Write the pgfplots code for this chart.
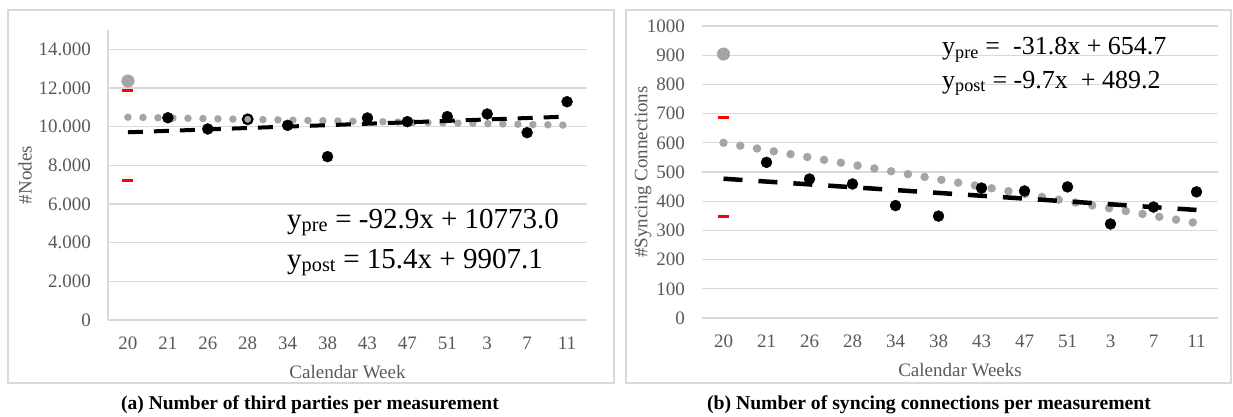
\documentclass[border=0pt]{standalone}
\usepackage{fontspec}
\setmainfont{Liberation Serif}
\usepackage{pgfplots}
\pgfplotsset{compat=1.18}

\definecolor{gridc}{HTML}{D9D9D9}
\definecolor{tickc}{HTML}{595959}
\definecolor{ptgray}{HTML}{A5A5A5}

\pgfplotsset{
  excel/.style={
    scale only axis, anchor=south west,
    xmin=-0.5, xmax=11.5,
    xtick={0,...,11},
    xticklabels={20,21,26,28,34,38,43,47,51,3,7,11},
    scaled y ticks=false,
    major tick length=0pt,
    axis x line*=bottom, axis y line*=left,
    axis line style={draw=gridc, line width=1.3pt, -},
    ymajorgrids, grid style={draw=gridc, line width=1.3pt},
    tick label style={font=\fontsize{19}{22}\selectfont, text=tickc, inner sep=0pt},
    xticklabel style={anchor=north, yshift=-17pt},
    yticklabel style={anchor=east, xshift=-17pt},
    label style={font=\fontsize{19}{22}\selectfont, text=tickc},
    xlabel style={at={(axis description cs:0.5,0)}, anchor=center, yshift=-52pt},
    clip=false,
  },
}

\begin{document}
\begin{tikzpicture}
\path[use as bounding box] (0pt,0pt) rectangle (1233pt,416pt);
\draw[gridc, line width=1.5pt] (8pt,406pt) rectangle (614pt,33pt);
\draw[gridc, line width=1.5pt] (626pt,406pt) rectangle (1231pt,33pt);

% (a) nodes
\begin{axis}[excel,
  at={(108pt,96pt)}, width=479pt, height=290pt,
  ymin=0, ymax=15000,
  ytick={0,2000,4000,6000,8000,10000,12000,14000},
  yticklabels={0,2.000,4.000,6.000,8.000,10.000,12.000,14.000},
  xlabel={Calendar Week}, ylabel={\#Nodes},
  ylabel style={at={(axis description cs:-0.173,0.5)}, anchor=center},
]
  % pre trend (grey dots)
  \addplot[no marks, draw=ptgray, line width=7.5pt, line cap=round,
    dash pattern=on 0pt off 15pt] coordinates {(0,10490) (11,10080)};
  % post trend (black dashes)
  \addplot[no marks, draw=black, line width=4pt,
    dash pattern=on 15pt off 11pt] coordinates {(0,9710) (11,10520)};
  \addplot[only marks, mark=*, mark size=6.3pt, ptgray] coordinates {(0,12360)};
  \addplot[only marks, mark=-, red, mark size=5.5pt, mark options={line width=3pt}]
    coordinates {(0,11845) (0,7190)};
  \addplot[only marks, mark=*, mark size=5.5pt, black] coordinates {
    (1,10460) (2,9880) (4,10070) (5,8450) (6,10450) (7,10260)
    (8,10520) (9,10655) (10,9690) (11,11290)};
  \addplot[only marks, mark=*, mark size=4.8pt, mark options={draw=black, fill=ptgray, line width=2.2pt}]
    coordinates {(3,10380)};
\end{axis}

% (b) syncing connections
\begin{axis}[excel,
  at={(702pt,98pt)}, width=516pt, height=292pt,
  ymin=0, ymax=1000,
  ytick={0,100,200,300,400,500,600,700,800,900,1000},
  yticklabels={0,100,200,300,400,500,600,700,800,900,1000},
  y axis line style={draw=none},
  xlabel={Calendar Weeks}, ylabel={\#Syncing Connections},
  ylabel style={at={(axis description cs:-0.114,0.5)}, anchor=center},
]
  \addplot[no marks, draw=ptgray, line width=8.5pt, line cap=round,
    dash pattern=on 0pt off 17pt] coordinates {(0,600) (11,325)};
  \addplot[no marks, draw=black, line width=4.5pt,
    dash pattern=on 19pt off 16pt] coordinates {(0,477) (11,370)};
  \addplot[only marks, mark=*, mark size=6.3pt, ptgray] coordinates {(0,904)};
  \addplot[only marks, mark=-, red, mark size=5.5pt, mark options={line width=3pt}]
    coordinates {(0,688) (0,346)};
  \addplot[only marks, mark=*, mark size=5.5pt, black] coordinates {
    (1,533) (2,476) (3,459) (4,385) (5,349) (6,445) (7,435)
    (8,449) (9,322) (10,380) (11,432)};
\end{axis}

% regression equations
\node[anchor=base west, inner sep=0pt, font=\fontsize{29}{34}\selectfont]
  at (287pt,188pt) {y\textsubscript{pre} = -92.9x + 10773.0};
\node[anchor=base west, inner sep=0pt, font=\fontsize{29}{34}\selectfont]
  at (287pt,148pt) {y\textsubscript{post} = 15.4x + 9907.1};
\node[anchor=base west, inner sep=0pt, font=\fontsize{26}{31}\selectfont]
  at (942pt,361pt) {y\textsubscript{pre} =\ \ -31.8x + 654.7};
\node[anchor=base west, inner sep=0pt, font=\fontsize{26}{31}\selectfont]
  at (942pt,328pt) {y\textsubscript{post} = -9.7x\ \ + 489.2};

% captions
\node[anchor=base, inner sep=0pt, font=\fontsize{19.5}{23}\selectfont\bfseries]
  at (310pt,7pt) {(a) Number of third parties per measurement};
\node[anchor=base, inner sep=0pt, font=\fontsize{19.7}{23}\selectfont\bfseries]
  at (929pt,7pt) {(b) Number of syncing connections per measurement};
\end{tikzpicture}
\end{document}
